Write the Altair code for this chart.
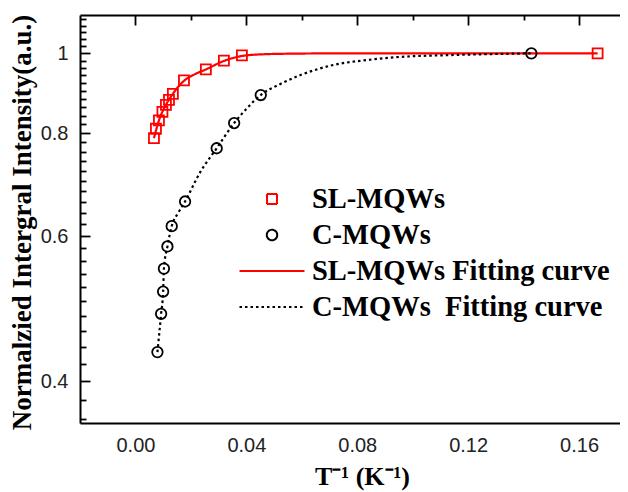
import altair as alt
import pandas as pd

# ---- data ----
sl_x = [0.00667, 0.00739, 0.00847, 0.00973, 0.0110, 0.0121, 0.0135, 0.0175, 0.0254, 0.0319, 0.0384, 0.1667]
sl_y = [0.789, 0.810, 0.829, 0.849, 0.866, 0.878, 0.893, 0.927, 0.956, 0.980, 0.994, 1.0]

c_x = [0.00793, 0.00926, 0.00998, 0.01027, 0.01153, 0.01308, 0.0179, 0.0293, 0.0356, 0.0452, 0.1428]
c_y = [0.434, 0.483, 0.514, 0.548, 0.583, 0.617, 0.661, 0.767, 0.823, 0.890, 1.0]

sl_fit_x = [0.00667, 0.00847, 0.0110, 0.0135, 0.0175, 0.0216, 0.0254, 0.0319, 0.0384, 0.045, 0.0559, 0.0775, 0.1667]
sl_fit_y = [0.789, 0.829, 0.866, 0.893, 0.926, 0.944, 0.956, 0.979, 0.9925, 0.997, 0.999, 1.0, 1.0]

c_fit_x = [0.00793, 0.00926, 0.00998, 0.01027, 0.01153, 0.01308, 0.0155, 0.0179, 0.0234, 0.0293,
           0.0356, 0.0404, 0.0452, 0.0523, 0.0595, 0.0714, 0.0836, 0.0955, 0.1135, 0.1428]
c_fit_y = [0.434, 0.483, 0.514, 0.548, 0.583, 0.617, 0.641, 0.661, 0.718, 0.767,
           0.823, 0.859, 0.890, 0.918, 0.941, 0.968, 0.9815, 0.990, 0.995, 1.0]

entries = ["SL-MQWs", "C-MQWs", "SL-MQWs Fitting curve", "\u00a0C-MQWs\u00a0\u00a0Fitting curve"]
colors = ["#ff0000", "#000000", "#ff0000", "#000000"]
shapes = ["square", "circle", "stroke", "stroke"]
sizes = [100, 110, 4225, 4225]
dashes = [[1, 0], [1, 0], [1, 0], [2.5, 3]]

x_domain = [-0.02, 0.17477]
y_domain = [0.356, 1.113]
x_ticks = [round(-0.02 + 0.02 * i, 2) for i in range(1, 10)]
x_major = [0, 0.04, 0.08, 0.12, 0.16]
y_ticks = [round(0.36 + 0.02 * i, 2) for i in range(0, 38)]
y_major = [0.4, 0.6, 0.8, 1]

W, H = 540, 408

pts = pd.DataFrame({
    "x": sl_x + c_x,
    "y": sl_y + c_y,
    "entry": [entries[0]] * len(sl_x) + [entries[1]] * len(c_x),
})
fit = pd.DataFrame({
    "x": sl_fit_x + c_fit_x,
    "y": sl_fit_y + c_fit_y,
    "entry": [entries[2]] * len(sl_fit_x) + [entries[3]] * len(c_fit_x),
})

xscale = alt.Scale(domain=x_domain, nice=False, zero=False)
yscale = alt.Scale(type="log", domain=y_domain, nice=False)

xmaj = "[" + ",".join(str(v) for v in x_major) + "]"
ymaj = "[" + ",".join(str(v) for v in y_major) + "]"

label_font = dict(labelFont="Liberation Sans", labelFontSize=20, labelColor="#222")
title_font = dict(titleFont="Liberation Serif", titleFontWeight="bold", titleColor="black",
                  titleBaseline="alphabetic")

# inward ticks: grid lines that start at the axis, dashed so only a short piece shows
x_axis = alt.Axis(
    orient="bottom", values=x_ticks, ticks=False,
    labelExpr=f"indexof({xmaj}, datum.value) >= 0 ? format(datum.value, '.2f') : ''",
    labelPadding=12, labelFlush=False, labelOverlap=False,
    domainWidth=2, domainColor="black",
    grid=True, gridColor="black", gridWidth=1.8, gridOpacity=1,
    gridDash={"condition": {"test": f"indexof({xmaj}, datum.value) >= 0", "value": [10, 3000]},
              "value": [5, 3000]},
    **label_font,
    title="T\u207b\u00b9 (K\u207b\u00b9)", titleFontSize=26, titleX=282, titleY=61, **title_font,
)
x_axis_top = alt.Axis(orient="top", labels=False, ticks=False, title=None,
                      domainWidth=2, domainColor="black", grid=False)

y_axis = alt.Axis(
    orient="left", values=y_ticks, ticks=False,
    labelExpr=f"indexof({ymaj}, datum.value) >= 0 ? (datum.value == 1 ? '1' : format(datum.value, '.1f')) : ''",
    labelPadding=12, labelFlush=False, labelOverlap=False,
    domainWidth=2, domainColor="black",
    grid=True, gridColor="black", gridWidth=1.8, gridOpacity=1,
    gridDash={"condition": {"test": f"indexof({ymaj}, datum.value) >= 0", "value": [10, 3000]},
              "value": [6, 3000]},
    **label_font,
    title="Normalzied Intergral Intensity(a.u.)", titleFontSize=27, titleX=-50, titleY=207, **title_font,
)

legend = alt.Legend(
    title=None, orient="none", legendX=158.5, legendY=167, padding=0,
    labelFont="Liberation Serif", labelFontWeight="bold", labelFontSize=28.5, labelColor="black",
    labelOffset=6.5, labelLimit=500, symbolStrokeWidth=2, clipHeight=34, rowPadding=2,
)

color_enc = alt.Color("entry:N", scale=alt.Scale(domain=entries, range=colors), legend=legend)

lines = alt.Chart(fit).mark_line(strokeWidth=2.2, interpolate="monotone").encode(
    x=alt.X("x:Q", scale=xscale, axis=x_axis),
    y=alt.Y("y:Q", scale=yscale, axis=y_axis),
    color=color_enc,
    strokeDash=alt.StrokeDash("entry:N", scale=alt.Scale(domain=entries, range=dashes), legend=legend),
)

points = alt.Chart(pts).mark_point(filled=False, strokeWidth=1.8, opacity=1).encode(
    x=alt.X("x:Q", scale=xscale, axis=x_axis_top),
    y=alt.Y("y:Q", scale=yscale, axis=None),
    color=color_enc,
    shape=alt.Shape("entry:N", scale=alt.Scale(domain=entries, range=shapes), legend=legend),
    size=alt.Size("entry:N", scale=alt.Scale(type="ordinal", domain=entries, range=sizes), legend=legend),
)

chart = alt.layer(lines, points).resolve_axis(x="independent", y="independent").properties(
    width=W, height=H,
    autosize=alt.AutoSizeParams(type="none"),
    padding={"left": 72, "top": 7, "right": 0, "bottom": 69},
    background="white",
).configure_view(stroke=None)

chart.save("out.html", embed_options={"renderer": "svg", "actions": False})
